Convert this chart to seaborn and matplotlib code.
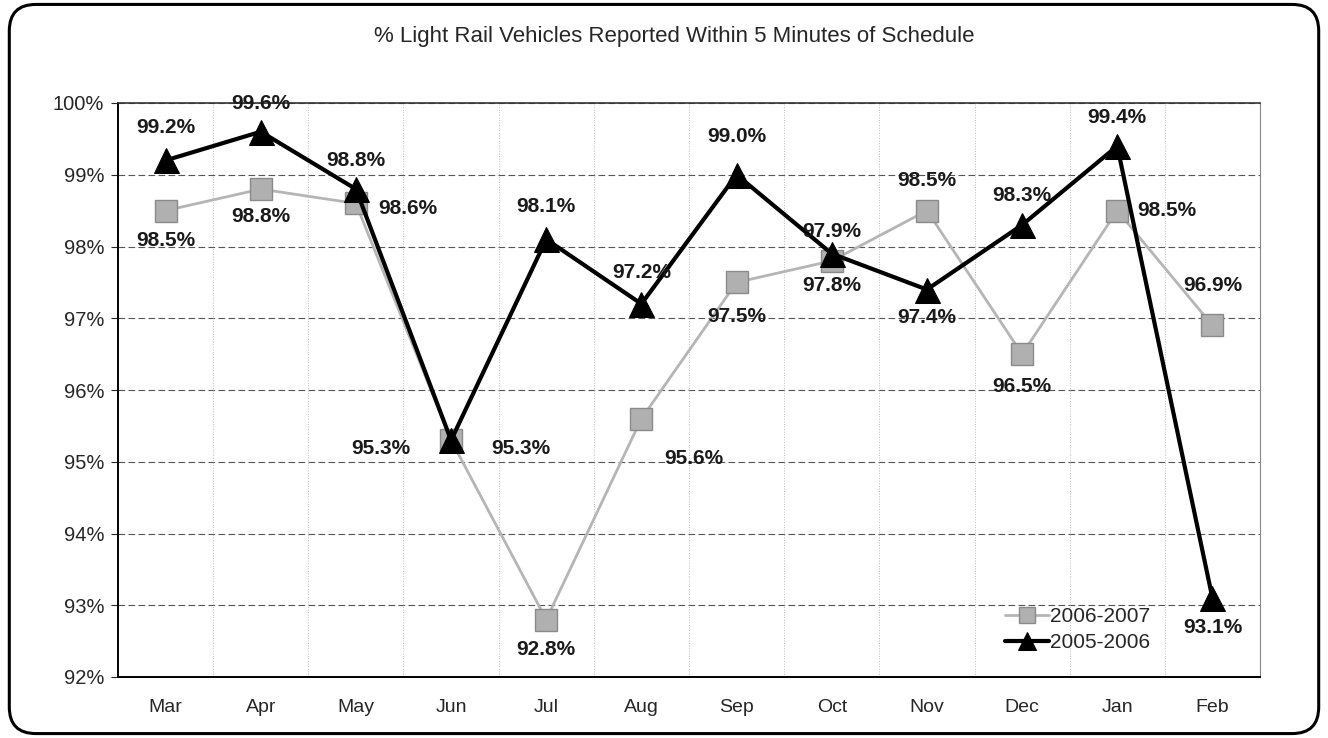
import matplotlib
matplotlib.use('Agg')
import matplotlib.pyplot as plt
from matplotlib.patches import FancyBboxPatch
import pandas as pd
import seaborn as sns

months = ['Mar', 'Apr', 'May', 'Jun', 'Jul', 'Aug', 'Sep', 'Oct', 'Nov', 'Dec', 'Jan', 'Feb']
fy0607 = [98.5, 98.8, 98.6, 95.3, 92.8, 95.6, 97.5, 97.8, 98.5, 96.5, 98.5, 96.9]
fy0506 = [99.2, 99.6, 98.8, 95.3, 98.1, 97.2, 99.0, 97.9, 97.4, 98.3, 99.4, 93.1]
yticks = [92, 93, 94, 95, 96, 97, 98, 99, 100]

# label offsets in pixels (dx, dy)
off0607 = [(0, -30), (0, -27), (52, -5), (70, -8), (0, -30), (52, -40),
           (0, -34), (0, -25), (0, 30), (0, -32), (50, 0), (0, 40)]
off0506 = [(0, 33), (0, 28), (0, 29), (-70, -8), (0, 33), (0, 31),
           (0, 38), (0, 22), (0, -28), (0, 29), (0, 29), (0, -29)]

df = pd.DataFrame({'x': list(range(12)) * 2,
                   'val': fy0607 + fy0506,
                   'series': ['2006-2007'] * 12 + ['2005-2006'] * 12})

sns.set_style('white')
plt.rcParams['font.family'] = ['Liberation Sans', 'DejaVu Sans']

fig = plt.figure(figsize=(13.28, 7.38), dpi=100)
ax = fig.add_axes([118 / 1328, 61 / 738, 1142 / 1328, 574 / 738])

border = FancyBboxPatch((0.007, 0.006), 0.986, 0.988, transform=fig.transFigure,
                        boxstyle='round,pad=0,rounding_size=0.02',
                        fc='none', ec='black', lw=2.2, mutation_aspect=1.8)
fig.patches.append(border)

sns.lineplot(data=df[df.series == '2006-2007'], x='x', y='val', ax=ax,
             color='#b5b5b5', lw=2.0, marker='s', markersize=16,
             markerfacecolor='#b0b0b0', markeredgecolor='#8a8a8a', markeredgewidth=1,
             label='2006-2007', sort=False)
sns.lineplot(data=df[df.series == '2005-2006'], x='x', y='val', ax=ax,
             color='black', lw=3.0, marker='^', markersize=18,
             markerfacecolor='black', markeredgecolor='black',
             label='2005-2006', sort=False)

for i in range(12):
    dx, dy = off0607[i]
    ax.annotate(f'{fy0607[i]:.1f}%', (i, fy0607[i]), xytext=(dx, dy),
                textcoords='offset pixels', ha='center', va='center',
                fontsize=15, fontweight='bold', color='#1a1a1a')
    dx, dy = off0506[i]
    ax.annotate(f'{fy0506[i]:.1f}%', (i, fy0506[i]), xytext=(dx, dy),
                textcoords='offset pixels', ha='center', va='center',
                fontsize=15, fontweight='bold', color='#1a1a1a')

ax.set_xlim(-0.5, 11.5)
ax.set_ylim(92, 100)
ax.set_xticks(range(12))
ax.set_xticklabels(months, fontsize=14)
ax.set_yticks(yticks)
ax.set_yticklabels([f'{t}%' for t in yticks], fontsize=14.5)
ax.set_xlabel('')
ax.set_ylabel('')
ax.tick_params(axis='x', length=0, pad=16)
ax.tick_params(axis='y', length=5, direction='out', left=True, pad=5)

for t in yticks[1:]:
    ax.axhline(t, color='#555555', lw=0.8, ls=(0, (6, 3)), zorder=0)
for xb in range(12):
    ax.axvline(xb + 0.5, color='#bbbbbb', lw=0.7, ls=':', zorder=0)

for s in ['left', 'bottom']:
    ax.spines[s].set_color('black')
    ax.spines[s].set_linewidth(1.4)
ax.spines['top'].set_color('#333333')
ax.spines['top'].set_linewidth(1.2)
ax.spines['right'].set_color('#888888')
ax.spines['right'].set_linewidth(0.8)

fig.text(0.508, 0.951, '% Light Rail Vehicles Reported Within 5 Minutes of Schedule',
         ha='center', va='center', fontsize=16)

ax.legend(loc='lower right', bbox_to_anchor=(0.904, 0.043), frameon=False,
          fontsize=15, handlelength=2.1, handletextpad=0.05, labelspacing=0.35,
          borderaxespad=0, borderpad=0, markerscale=0.7)

fig.savefig('out.png', dpi=100)
